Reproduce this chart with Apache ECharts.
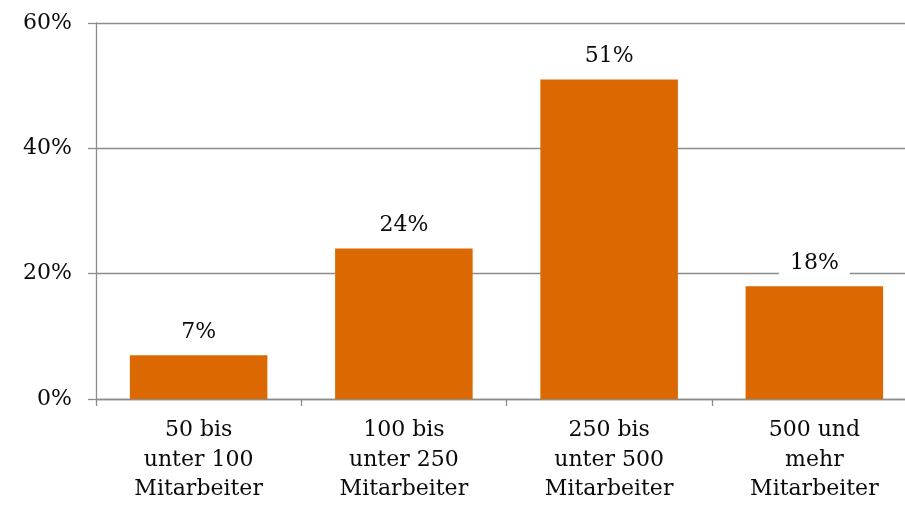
<!DOCTYPE html>
<html>
<head>
<meta charset="utf-8">
<script src="https://cdn.jsdelivr.net/npm/echarts@6/dist/echarts.min.js"></script>
<style>
  html, body { margin: 0; padding: 0; background: #fff; overflow: hidden; }
  /* the plot area runs slightly past the right edge of the window */
  #chart { width: 917px; height: 506px; }
</style>
</head>
<body>
<div id="chart"></div>
<script>
// Company size groups and share of respondents (%)
const categories = [
  '50 bis\nunter 100\nMitarbeiter',
  '100 bis\nunter 250\nMitarbeiter',
  '250 bis\nunter 500\nMitarbeiter',
  '500 und\nmehr\nMitarbeiter'
];
const shares = [7, 24, 51, 18];
const yTicks = [0, 20, 40, 60];

const FONT = '"DejaVu Serif", "Liberation Serif", serif';
const AXIS_GREY = '#8c8c8c';

const chart = echarts.init(document.getElementById('chart'), null, { renderer: 'canvas' });
chart.setOption({
  animation: false,
  backgroundColor: '#ffffff',
  grid: { left: 96, top: 23, right: 0, bottom: 107, containLabel: false },
  xAxis: {
    type: 'category',
    data: categories,
    axisLine: { show: true, lineStyle: { color: AXIS_GREY, width: 1.3 } },
    axisTick: { show: true, alignWithLabel: false, length: 7, lineStyle: { color: AXIS_GREY, width: 1.3 } },
    axisLabel: {
      color: '#0a0a0a',
      fontFamily: FONT,
      fontSize: 22,
      lineHeight: 29.5,
      margin: 17,
      interval: 0
    }
  },
  yAxis: {
    type: 'value',
    min: yTicks[0],
    max: yTicks[yTicks.length - 1],
    interval: 20,
    axisLine: { show: true, lineStyle: { color: AXIS_GREY, width: 1.3 } },
    axisTick: { show: true, inside: false, length: 8, lineStyle: { color: AXIS_GREY, width: 1.3 } },
    splitLine: { show: true, lineStyle: { color: AXIS_GREY, width: 1.3 } },
    axisLabel: {
      color: '#0a0a0a',
      fontFamily: FONT,
      fontSize: 22,
      margin: 24,
      formatter: v => v + '%'
    }
  },
  series: [{
    type: 'bar',
    data: shares,
    barCategoryGap: '33%',
    itemStyle: { color: '#db6800' },
    label: {
      show: true,
      position: 'top',
      distance: 9,
      formatter: p => p.value + '%',
      color: '#0a0a0a',
      fontFamily: FONT,
      fontSize: 22,
      backgroundColor: '#ffffff',
      padding: [3, 11, 3, 11]
    }
  }]
});
</script>
</body>
</html>
